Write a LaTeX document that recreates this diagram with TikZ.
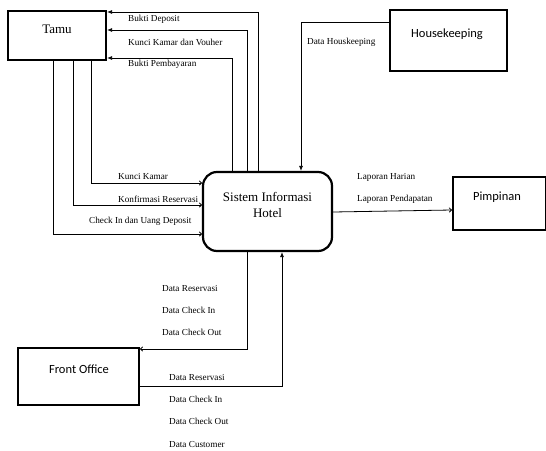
\documentclass[tikz,border=0pt]{standalone}
\usepackage{fontspec}
\setmainfont{Liberation Serif}
\newfontfamily\calib{Carlito}
\usetikzlibrary{arrows.meta}
\begin{document}
\begin{tikzpicture}[x=1pt,y=-1pt,
  box/.style={draw,line width=2.2pt,inner sep=0pt},
  boxtext/.style={font=\fontsize{12.5}{14}\selectfont\calib,inner sep=0pt},
  sertext/.style={font=\fontsize{13}{15.5}\selectfont,inner sep=0pt,align=center},
  lab/.style={font=\fontsize{9.2}{10}\selectfont,anchor=west,inner sep=0pt},
  conn/.style={line width=0.8pt},
  arr/.style={conn,-{Latex[length=5pt,width=4pt]}},
  arrt/.style={conn,-{To[length=3pt,width=5pt]}}]
\useasboundingbox (0,0) rectangle (546,450);
\fill[white] (0,0) rectangle (546,450);

% boxes
\node[box,minimum width=98pt,minimum height=49pt] (tamu) at (57,35.5) {};
\node[sertext] (tamut) at (57,29) {Tamu};
\node[box,minimum width=117pt,minimum height=61pt] (hk) at (448.5,40.5) {};
\node[boxtext] (hkt) at (447,34) {Housekeeping};
\node[box,minimum width=93pt,minimum height=53pt] (pim) at (499.5,203.5) {};
\node[boxtext] (pimt) at (497,197) {Pimpinan};
\node[box,minimum width=121pt,minimum height=57pt] (fo) at (78.5,376.5) {};
\node[boxtext] (fot) at (79,369) {Front Office};
\node[box,rounded corners=14pt,minimum width=129pt,minimum height=79pt] (sis) at (267.5,211.5) {};
\node[sertext] (sist) at (267.5,205) {Sistem Informasi\\Hotel};

% Sistem -> Tamu
\coordinate (a1) at (258,12);
\coordinate (a2) at (247,30);
\coordinate (a3) at (232,58);
\draw[arr] (a1 |- sis.north) -- (a1) -- (a1 -| tamu.east);
\draw[arr] (a2 |- sis.north) -- (a2) -- (a2 -| tamu.east);
\draw[arr] (a3 |- sis.north) -- (a3) -- (a3 -| tamu.east);
\node[lab] (l1) at (128,19) {Bukti Deposit};
\node[lab] (l2) at (128,42) {Kunci Kamar dan Vouher};
\node[lab] (l3) at (128,64) {Bukti Pembayaran};

% Tamu -> Sistem
\coordinate (b1) at (91,183);
\coordinate (b2) at (73,205);
\coordinate (b3) at (53,234);
\draw[arrt] (b1 |- tamu.south) -- (b1) -- (b1 -| sis.west);
\draw[arrt] (b2 |- tamu.south) -- (b2) -- (b2 -| sis.west);
\draw[arrt] (b3 |- tamu.south) -- (b3) -- (b3 -| sis.west);
\node[lab] (l4) at (118,176) {Kunci Kamar};
\node[lab] (l5) at (118,199) {Konfirmasi Reservasi};
\node[lab] (l6) at (89,221) {Check In dan Uang Deposit};

% Housekeeping -> Sistem
\coordinate (h1) at (301,22);
\draw[arr] (h1 -| hk.west) -- (h1) -- (h1 |- sis.north);
\node[lab] (l7) at (307,42) {Data Houskeeping};

% Sistem -> Pimpinan
\coordinate (p1) at (0,212);
\coordinate (p2) at (0,210);
\draw[arrt] (p1 -| sis.east) -- (p2 -| pim.west);
\node[lab] (l8) at (357,177) {Laporan Harian};
\node[lab] (l9) at (357,199) {Laporan Pendapatan};

% Sistem -> Front Office
\coordinate (f1) at (247,349);
\draw[arrt] (f1 |- sis.south) -- (f1) -- (f1 -| fo.east);
\node[lab] (l10) at (162,288) {Data Reservasi};
\node[lab] (l11) at (162,310) {Data Check In};
\node[lab] (l12) at (162,332) {Data Check Out};

% Front Office -> Sistem
\coordinate (f2) at (282,386);
\draw[arr] (f2 -| fo.east) -- (f2) -- (f2 |- sis.south);
\node[lab] (l13) at (169,377) {Data Reservasi};
\node[lab] (l14) at (169,399) {Data Check In};
\node[lab] (l15) at (169,421) {Data Check Out};
\node[lab] (l16) at (169,444) {Data Customer};
\end{tikzpicture}
\end{document}
